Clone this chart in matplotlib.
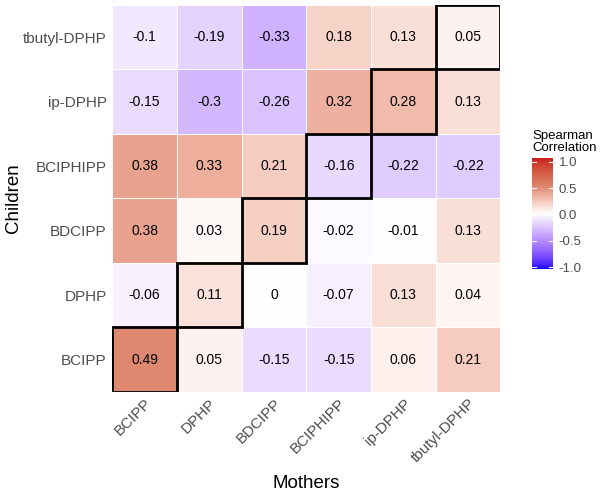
import numpy as np
import matplotlib
matplotlib.use("Agg")
import matplotlib.pyplot as plt
from matplotlib.colors import ListedColormap, Normalize, to_rgb
from matplotlib.patches import Rectangle

plt.rcParams['font.family'] = ['Liberation Sans', 'DejaVu Sans']

mothers = ["BCIPP", "DPHP", "BDCIPP", "BCIPHIPP", "ip-DPHP", "tbutyl-DPHP"]
children = ["BCIPP", "DPHP", "BDCIPP", "BCIPHIPP", "ip-DPHP", "tbutyl-DPHP"]

# rows follow children (bottom to top), columns follow mothers
rho_bcipp = [0.49, 0.05, -0.15, -0.15, 0.06, 0.21]
rho_dphp = [-0.06, 0.11, 0, -0.07, 0.13, 0.04]
rho_bdcipp = [0.38, 0.03, 0.19, -0.02, -0.01, 0.13]
rho_bciphipp = [0.38, 0.33, 0.21, -0.16, -0.22, -0.22]
rho_ipdphp = [-0.15, -0.3, -0.26, 0.32, 0.28, 0.13]
rho_tbutyl = [-0.1, -0.19, -0.33, 0.18, 0.13, 0.05]

corr = np.array([rho_bcipp, rho_dphp, rho_bdcipp, rho_bciphipp, rho_ipdphp, rho_tbutyl])

cbar_ticks = [-1, -0.5, 0, 0.5, 1]


# gradient2 style colour scale, interpolated in Lab space like ggplot
def srgb_to_lab(c):
    c = np.asarray(c, dtype=float)
    lin = np.where(c <= 0.04045, c / 12.92, ((c + 0.055) / 1.055) ** 2.4)
    M = np.array([[0.4124, 0.3576, 0.1805],
                  [0.2126, 0.7152, 0.0722],
                  [0.0193, 0.1192, 0.9505]])
    xyz = M @ lin / np.array([0.95047, 1.0, 1.08883])
    f = np.where(xyz > 0.008856, np.cbrt(xyz), 7.787 * xyz + 16 / 116)
    return np.array([116 * f[1] - 16, 500 * (f[0] - f[1]), 200 * (f[1] - f[2])])


def lab_to_srgb(lab):
    L, a, b = lab
    fy = (L + 16) / 116
    fx = fy + a / 500
    fz = fy - b / 200
    f = np.array([fx, fy, fz])
    xyz = np.where(f ** 3 > 0.008856, f ** 3, (f - 16 / 116) / 7.787)
    xyz = xyz * np.array([0.95047, 1.0, 1.08883])
    Mi = np.array([[3.2406, -1.5372, -0.4986],
                   [-0.9689, 1.8758, 0.0415],
                   [0.0557, -0.2040, 1.0570]])
    lin = Mi @ xyz
    c = np.where(lin <= 0.0031308, 12.92 * lin, 1.055 * np.clip(lin, 0, None) ** (1 / 2.4) - 0.055)
    return np.clip(c, 0, 1)


low = srgb_to_lab(to_rgb("#0000FF"))
mid = srgb_to_lab((1, 1, 1))
half = np.array([64.5, 31.0, 28.0])
high = srgb_to_lab(to_rgb("#C81E1E"))
colors = []
for t in np.linspace(-1, 1, 256):
    if t < 0:
        lab = mid + (low - mid) * (-t)
    elif t < 0.5:
        lab = mid + (half - mid) * (t / 0.5)
    else:
        lab = half + (high - half) * ((t - 0.5) / 0.5)
    colors.append(lab_to_srgb(lab))
cmap = ListedColormap(colors)
norm = Normalize(-1, 1)

fig = plt.figure(figsize=(6, 4.93), dpi=100)
ax = fig.add_axes([0.187, 0.205, 0.647, 0.785])
n = len(mothers)
ax.pcolormesh(np.arange(n + 1), np.arange(n + 1), corr, cmap=cmap, norm=norm,
              edgecolor="white", linewidth=0.6)
for i in range(n):
    for j in range(n):
        ax.text(j + 0.5, i + 0.5, f"{corr[i, j]:g}", ha="center", va="center",
                fontsize=10, color="black")
    ax.add_patch(Rectangle((i, i), 1, 1, fill=False, edgecolor="black", linewidth=2, zorder=5))

ax.set_xlim(0, n)
ax.set_ylim(0, n)
ax.set_xticks(np.arange(n) + 0.5)
ax.set_xticklabels(mothers, rotation=45, ha="right", rotation_mode="anchor",
                   fontsize=11, color="#4D4D4D")
ax.set_yticks(np.arange(n) + 0.5)
ax.set_yticklabels(children, fontsize=11, color="#4D4D4D")
ax.tick_params(axis="y", length=0, pad=4)
ax.tick_params(axis="x", length=0, pad=3)
for s in ax.spines.values():
    s.set_visible(False)
ax.set_xlabel("Mothers", fontsize=13.5, labelpad=7)
ax.set_ylabel("Children", fontsize=13.5, labelpad=1)

# colour bar drawn by hand so the bar runs a little past the -1 / 1 ticks
cax = fig.add_axes([532 / 600, 1 - 269 / 493, 21 / 600, 111 / 493])
grad = np.linspace(-1, 1, 256).reshape(-1, 1)
cax.imshow(grad, cmap=cmap, norm=norm, aspect="auto", origin="lower",
           extent=[0, 1, -1.03, 1.07])
cax.set_xlim(0, 1)
cax.set_ylim(-1.03, 1.07)
cax.set_xticks([])
cax.yaxis.tick_right()
cax.set_yticks(cbar_ticks)
cax.set_yticklabels(["-1.0", "-0.5", "0.0", "0.5", "1.0"])
cax.tick_params(length=0, labelsize=9.5, labelcolor="#4D4D4D", pad=4)
for s in cax.spines.values():
    s.set_visible(False)
for v in cbar_ticks:
    cax.plot([0, 0.2], [v, v], color="white", lw=0.8)
    cax.plot([0.8, 1], [v, v], color="white", lw=0.8)
fig.text(532 / 600, 1 - 154 / 493, "Spearman\nCorrelation", fontsize=9.5, ha="left", va="bottom",
         linespacing=1.05)

fig.savefig("out.png", dpi=100)
